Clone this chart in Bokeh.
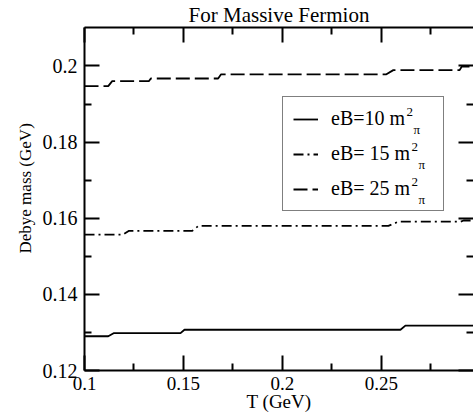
from bokeh.plotting import figure
from bokeh.models import LinearAxis, FixedTicker, Range1d, Legend, LegendItem, Label, Title
from bokeh.embed import file_html
from bokeh.resources import INLINE

# ---------------- data ----------------
title_text = "For Massive Fermion"
x_label = "T (GeV)"
y_label = "Debye mass (GeV)"

x_ticks = [0.1, 0.15, 0.2, 0.25, 0.3]
x_tick_labels = ["0.1", "0.15", "0.2", "0.25", "0.3"]
x_minor = [0.125, 0.175, 0.225, 0.275]
y_ticks = [0.12, 0.14, 0.16, 0.18, 0.2]
y_tick_labels = ["0.12", "0.14", "0.16", "0.18", "0.2"]
y_minor = [0.13, 0.15, 0.17, 0.19]

legend_names = ["eB=10 m", "eB= 15 m", "eB= 25 m"]
legend_sup = ["2", "2", "2"]
legend_sub = ["\u03c0", "\u03c0", "\u03c0"]

T_10 = [0.100, 0.112, 0.1147, 0.1485, 0.1505, 0.2596, 0.2621, 0.300]
M_10 = [0.1290, 0.1290, 0.1298, 0.1298, 0.1307, 0.1307, 0.1318, 0.1318]

T_15 = [0.100, 0.1195, 0.1225, 0.1545, 0.1576, 0.2535, 0.2586, 0.290, 0.2915, 0.300]
M_15 = [0.1557, 0.1557, 0.1567, 0.1567, 0.1580, 0.1580, 0.1591, 0.1591, 0.1594, 0.1594]

T_25 = [0.100, 0.112, 0.114, 0.1325, 0.1335, 0.1675, 0.1690, 0.2525, 0.256, 0.2895, 0.2905, 0.300]
M_25 = [0.1947, 0.1947, 0.1960, 0.1960, 0.1967, 0.1967, 0.1978, 0.1978, 0.1989, 0.1989, 0.1998, 0.1998]

# ---------------- figure ----------------
FONT = "Liberation Serif"

p = figure(width=473, height=414, output_backend="svg", toolbar_location=None,
           x_range=Range1d(0.1, 0.2965), y_range=Range1d(0.12, 0.2101),
           title=title_text,
           min_border_left=84, min_border_right=0, min_border_top=0, min_border_bottom=42)
p.background_fill_color = "white"
p.border_fill_color = "white"
p.outline_line_color = None
p.xgrid.visible = False
p.ygrid.visible = False

p.title.text_font = FONT
p.title.text_font_size = "21px"
p.title.text_font_style = "normal"
p.title.text_color = "black"
p.title.align = "center"
p.title.standoff = 1

xt = FixedTicker(ticks=x_ticks, minor_ticks=x_minor)
yt = FixedTicker(ticks=y_ticks, minor_ticks=y_minor)


def style_axis(ax, labels):
    ax.axis_line_width = 2
    ax.axis_line_color = "black"
    ax.major_tick_in = 15
    ax.major_tick_out = 0
    ax.minor_tick_in = 7
    ax.minor_tick_out = 0
    ax.major_tick_line_width = 2
    ax.minor_tick_line_width = 2
    ax.major_tick_line_color = "black"
    ax.minor_tick_line_color = "black"
    ax.major_label_text_font = FONT
    ax.major_label_text_font_style = "normal"
    ax.major_label_text_color = "black"
    ax.axis_label_text_font = FONT
    ax.axis_label_text_font_style = "normal"
    ax.axis_label_text_color = "black"
    ax.major_label_overrides = labels


xlab = {t: s for t, s in zip(x_ticks, x_tick_labels)}
ylab = {t: s for t, s in zip(y_ticks, y_tick_labels)}
xblank = {t: "" for t in x_ticks}
yblank = {t: "" for t in y_ticks}

xa = p.xaxis[0]
xa.ticker = xt
style_axis(xa, xlab)
xa.major_label_text_font_size = "19px"
xa.major_label_standoff = 6
xa.axis_label = x_label
xa.axis_label_text_font_size = "19px"
xa.axis_label_standoff = -2

ya = p.yaxis[0]
ya.ticker = yt
style_axis(ya, ylab)
ya.major_label_text_font_size = "20px"
ya.major_label_standoff = 7

top = LinearAxis(ticker=xt)
style_axis(top, xblank)
top.major_label_text_font_size = "1px"
top.major_label_standoff = 0
p.add_layout(top, "above")

right = LinearAxis(ticker=yt)
style_axis(right, yblank)
right.major_label_text_font_size = "1px"
right.major_label_standoff = 0
right.axis_line_color = None
p.add_layout(right, "right")

# y-axis title as a side title, shifted up a little from the frame centre as in the reference
ytitle = Title(text=y_label, align="left", offset=117, standoff=9,
               text_font=FONT, text_font_size="17px", text_font_style="normal",
               text_color="black")
p.add_layout(ytitle, "left")

# ---------------- lines ----------------
r10 = p.line(T_10, M_10, line_color="black", line_width=1.8)
r15 = p.line(T_15, M_15, line_color="black", line_width=1.8, line_dash="10 4 2 4")
r25 = p.line(T_25, M_25, line_color="black", line_width=1.8, line_dash="14 5")

legend = Legend(items=[LegendItem(label=legend_names[0], renderers=[r10]),
                       LegendItem(label=legend_names[1], renderers=[r15]),
                       LegendItem(label=legend_names[2], renderers=[r25])],
                location=(198, 159))
legend.label_text_font = FONT
legend.label_text_font_size = "20px"
legend.label_text_color = "black"
legend.label_height = 20
legend.glyph_height = 20
legend.glyph_width = 25
legend.label_standoff = 13
legend.label_width = 102
legend.spacing = 12
legend.padding = 10
legend.margin = 0
legend.border_line_color = "black"
legend.border_line_width = 1.5
legend.background_fill_color = None
legend.background_fill_alpha = 0.0
p.add_layout(legend, "center")

# superscript / subscript pieces of legend labels (screen px, frame-relative)
sup_x = [322, 327, 327]
item_y = [250, 215, 180]
for i in range(3):
    p.add_layout(Label(x=sup_x[i], y=item_y[i] + 9, x_units="screen", y_units="screen",
                       text=legend_sup[i], text_font=FONT, text_font_size="13px",
                       text_baseline="middle", text_color="black"))
    p.add_layout(Label(x=sup_x[i] + 7, y=item_y[i] - 9, x_units="screen", y_units="screen",
                       text=legend_sub[i], text_font=FONT, text_font_size="13px",
                       text_baseline="middle", text_color="black"))

open("out.html", "w").write(file_html(p, INLINE))
